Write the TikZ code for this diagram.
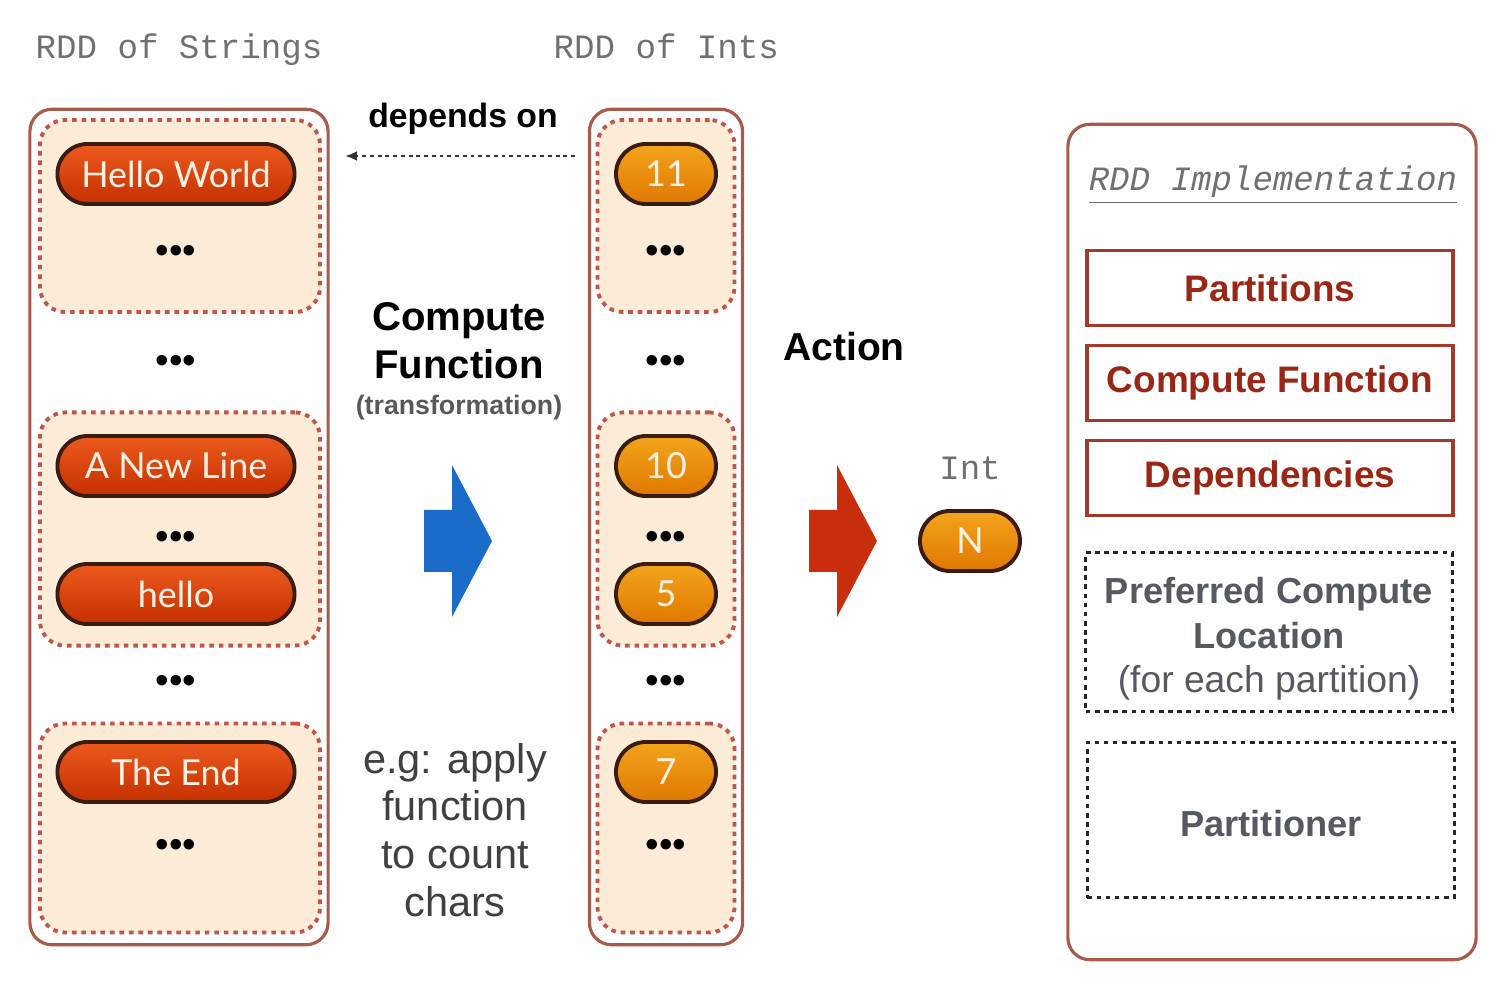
\documentclass[tikz,border=0pt]{standalone}
\usepackage{fontspec}
\setmainfont{Liberation Sans}
\setmonofont{Liberation Mono}
\newfontfamily\pillfont{Lato}
\usepackage{xcolor}
\usetikzlibrary{positioning, arrows.meta}

\definecolor{rddline}{HTML}{A85A4C}
\definecolor{partline}{HTML}{C0564A}
\definecolor{partfill}{HTML}{FCEBD6}
\definecolor{pillline}{HTML}{3A1C12}
\definecolor{redtop}{HTML}{EC5A1E}
\definecolor{redbot}{HTML}{C53000}
\definecolor{orangetop}{HTML}{F4A41C}
\definecolor{orangebot}{HTML}{DF7800}
\definecolor{pilltext}{HTML}{FFF2E4}
\definecolor{implline}{HTML}{A23A2C}
\definecolor{impltext}{HTML}{9A2716}
\definecolor{optgrey}{HTML}{555A60}
\definecolor{monogrey}{HTML}{707070}
\definecolor{blueArrow}{HTML}{1A6CC8}
\definecolor{redArrow}{HTML}{C82E0C}

\tikzset{
    fatarrow/.pic={
        \fill[#1] (-34,-31) -- (-6,-31) -- (-6,-76) -- (34,0) -- (-6,76) -- (-6,31) -- (-34,31) -- cycle;
    }
}

\begin{document}
\begin{tikzpicture}[x=0.01cm, y=-0.01cm,
    rddbox/.style={draw=rddline, line width=0.9pt, rounded corners=0.22cm, inner sep=0pt, minimum height=8.35cm},
    partbox/.style={draw=partline, fill=partfill, line width=1.1pt, dash pattern=on 1.3pt off 1.4pt, rounded corners=0.25cm, inner sep=0pt},
    strpill/.style={draw=pillline, line width=1.1pt, rounded corners=0.3cm, top color=redtop, bottom color=redbot, minimum width=2.37cm, minimum height=0.6cm, inner sep=0pt, text=pilltext, font=\pillfont\fontsize{10.2}{12}\selectfont},
    intpill/.style={strpill, top color=orangetop, bottom color=orangebot, minimum width=1cm},
    moredots/.style={font=\fontsize{11}{11}\selectfont},
    monolabel/.style={text=monogrey, font=\ttfamily\fontsize{9.7}{11}\selectfont},
    bigword/.style={font=\bfseries\fontsize{11.4}{13.6}\selectfont, align=center},
    implbox/.style={draw=implline, line width=1pt, minimum width=3.66cm, minimum height=0.75cm, inner sep=0pt, text=impltext, font=\bfseries\fontsize{10.5}{12}\selectfont},
    optbox/.style={draw=black!85, line width=0.9pt, dash pattern=on 1.3pt off 1.3pt, minimum width=3.66cm, inner sep=0pt},
    opttext/.style={text=optgrey, align=center, font=\bfseries\fontsize{10.3}{12.6}\selectfont}
]
\useasboundingbox (0,0) rectangle (1508,994);

% titles
\node[monolabel, anchor=base west, inner sep=0pt] (strtitle) at (35,59) {RDD of Strings};
\node[monolabel, anchor=base west, inner sep=0pt] (inttitle) at (553,59) {RDD of Ints};

% RDD of strings
\node[rddbox, minimum width=2.98cm] (strbox) at (179,527) {};
\node[partbox, minimum width=2.80cm, minimum height=1.92cm] (spart1) at (180,216) {};
\node[partbox, minimum width=2.80cm, minimum height=2.33cm] (spart2) at (180,529) {};
\node[partbox, minimum width=2.80cm, minimum height=2.09cm] (spart3) at (180,828) {};
\node[strpill] (hello) at (176,174) {Hello World};
\node[strpill] (newline) at (176,466) {A New Line};
\node[strpill] (hellolow) at (176,594) {hello};
\node[strpill] (theend) at (176,772) {The End};
\foreach \y [count=\i] in {254,364,540,684,848}
    \node[moredots] (sdots\i) at (176,\y) {•••};

% RDD of ints
\node[rddbox, minimum width=1.53cm] (intbox) at (666,527) {};
\node[partbox, minimum width=1.37cm, minimum height=1.92cm] (ipart1) at (666,216) {};
\node[partbox, minimum width=1.37cm, minimum height=2.33cm] (ipart2) at (666,529) {};
\node[partbox, minimum width=1.37cm, minimum height=2.09cm] (ipart3) at (666,828) {};
\node[intpill] (eleven) at (666,174) {11};
\node[intpill] (ten) at (666,466) {10};
\node[intpill] (five) at (666,594) {5};
\node[intpill] (seven) at (666,772) {7};
\foreach \y [count=\i] in {254,364,540,684,848}
    \node[moredots] (idots\i) at (666,\y) {•••};

% dependency
\node[font=\bfseries\fontsize{9.6}{11}\selectfont] (depends) at (463,119) {depends on};
\coordinate (depR) at (575,156);
\coordinate (depL) at (345,156);
\draw[black!80, line width=0.6pt, dash pattern=on 1.1pt off 1.1pt, -{Latex[length=3.4pt, width=2.8pt]}] (depR) -- (depL);

% transformation
\node[bigword] (compute) at (459,341) {Compute\\Function};
\node[text=black!65, font=\bfseries\fontsize{7.6}{9}\selectfont, below=-2.5pt of compute] (transf) {(transformation)};
\pic at (458,541) {fatarrow=blueArrow};
\node[text=black!75, font=\fontsize{11.8}{13.6}\selectfont, align=center] (example) at (455,830) {e.g: apply\\function\\to count\\chars};

% action
\node[bigword, font=\bfseries\fontsize{11.1}{13}\selectfont] (action) at (844,347) {Action};
\pic at (843,541) {fatarrow=redArrow};
\node[monolabel] (inttype) at (970,468) {Int};
\node[intpill] (result) at (970,541) {N};

% RDD implementation
\node[rddbox, minimum width=4.08cm] (implbox) at (1272,542) {};
\node[text=monogrey, font=\ttfamily\itshape\fontsize{9.7}{11}\selectfont] (impltitle) at (1273,185) {\underline{RDD Implementation}};
\node[implbox] (partitions) at (1270,288) {Partitions};
\node[implbox] (computefn) at (1270,383) {Compute Function};
\node[implbox] (dependencies) at (1270,478) {Dependencies};
\node[optbox, minimum height=1.59cm] (prefloc) at (1269,632) {};
\node[opttext] (prefloctext) at ([yshift=-0.07cm]prefloc.center) {Preferred Compute\\Location\\{\mdseries\fontsize{10.6}{12.6}\selectfont (for each partition)}};
\node[optbox, minimum height=1.55cm, minimum width=3.67cm] (partitioner) at (1271,820) {};
\node[opttext] (partitionertext) at ([yshift=-0.04cm]partitioner.center) {Partitioner};
\end{tikzpicture}
\end{document}
